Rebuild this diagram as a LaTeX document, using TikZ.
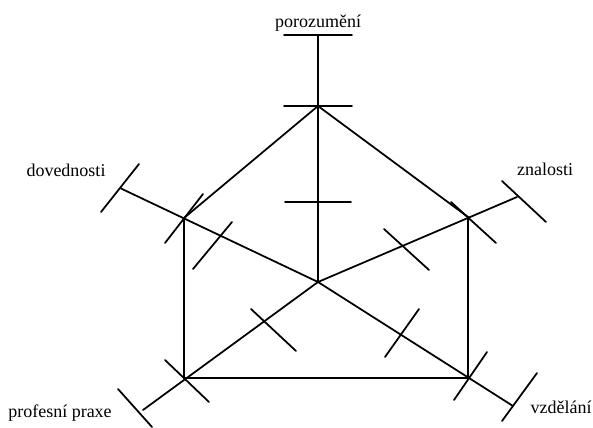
\documentclass[tikz,border=0pt]{standalone}
\usepackage{fontspec}
\setmainfont{Liberation Serif}
\usepackage{tikz}
\usetikzlibrary{positioning}
\tikzset{
  ax/.style={line width=1.05pt,line cap=round},
  tk/.style={line width=1.05pt,line cap=round},
  lbl/.style={font=\fontsize{10.8}{12}\selectfont,anchor=base,inner sep=0pt},
}

\begin{document}
\begin{tikzpicture}[x=0.6pt,y=-0.6pt]
\useasboundingbox (0,0) rectangle (593,428);
% centre, pentagon corners and axis ends
\coordinate (c) at (318,282);
\coordinate (vt) at (318,106); \coordinate (vul) at (184,218); \coordinate (vur) at (468,217); \coordinate (vll) at (184,378); \coordinate (vlr) at (468,378);
\coordinate (et) at (318,35); \coordinate (eul) at (121,188.5); \coordinate (eur) at (517,197); \coordinate (ell) at (143,410); \coordinate (elr) at (513,406);
\foreach \e in {et,eul,eur,ell,elr} {\draw[ax] (c)--(\e);}
\draw[ax] (vt)--(vul)--(vll)--(vlr)--(vur)--cycle;
% ticks on the axes
\foreach \a/\b in {{284,35}/{352,35},{284,106}/{352,106},{285,202}/{351,202},
  {101,212}/{139,164},{165,243}/{203,194},{193,269}/{232,222},
  {502,181}/{546,222},{451,202}/{496,243},{384,229}/{429,270},
  {118,389}/{152,427},{165,360}/{209,402},{251,309}/{296,351},
  {502,421}/{537,373},{454,400}/{487,352},{385,357}/{419,309}}
  {\draw[tk] (\a)--(\b);}
\node[lbl] (lt) at (318,28) {porozumění};
\node[lbl] (lul) at (66,177) {dovednosti};
\node[lbl] (lur) at (545,176) {znalosti};
\node[lbl] (lll) at (60,417) {profesní praxe};
\node[lbl] (llr) at (561,413) {vzdělání};
\end{tikzpicture}
\end{document}
